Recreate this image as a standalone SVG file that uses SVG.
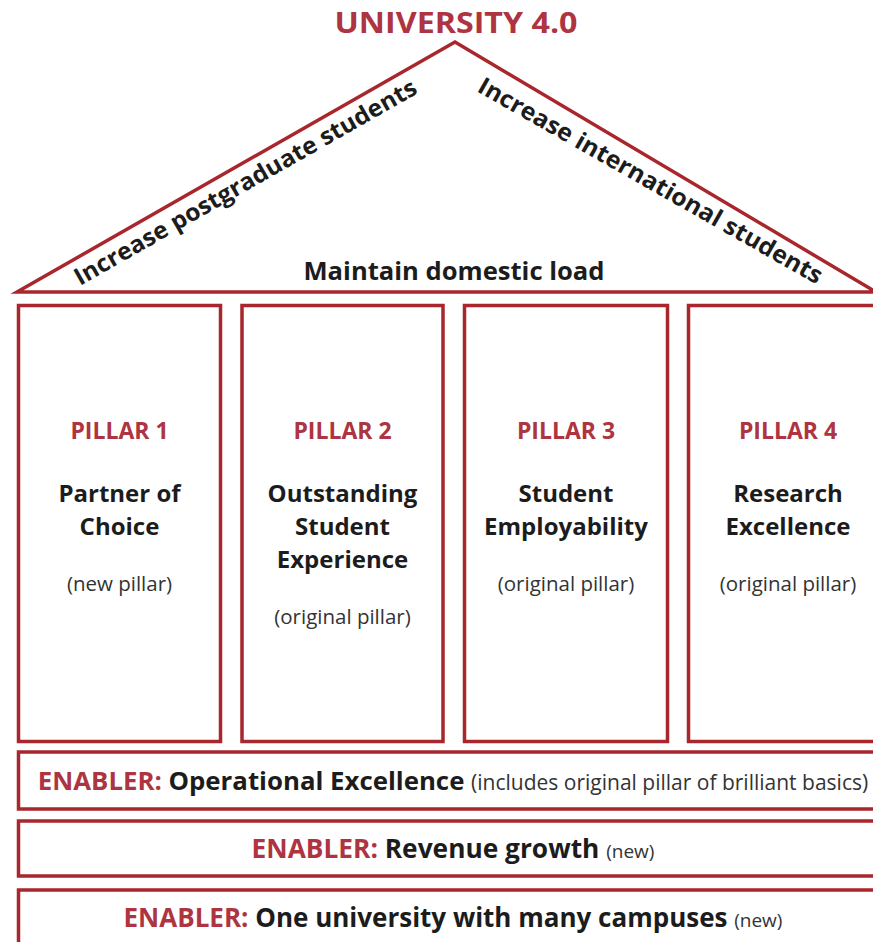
<svg xmlns="http://www.w3.org/2000/svg" width="873" height="942" viewBox="0 0 873 942">
<style>
.box{fill:#ffffff;stroke:#a9262c;stroke-width:3.5}
.red{fill:#ad3440;font-family:"Open Sans","DejaVu Sans",sans-serif;font-weight:700}
.blk{fill:#1c1c1c;font-family:"Open Sans","DejaVu Sans",sans-serif;font-weight:700}
.reg{fill:#333333;font-family:"Open Sans","DejaVu Sans",sans-serif;font-weight:400}
.c{text-anchor:middle}
</style>
<rect width="873" height="942" fill="#ffffff"/>
<g id="title">
<text class="red c" x="456" y="33" font-size="28.5" textLength="243" lengthAdjust="spacingAndGlyphs">UNIVERSITY 4.0</text>
</g>
<g id="roof">
<polygon class="box" points="17,292 455,42 876,292"/>
<text class="blk" font-size="24" x="80" y="286" transform="rotate(-29.7 80 286)" textLength="390" lengthAdjust="spacingAndGlyphs">Increase postgraduate students</text>
<text class="blk" font-size="24" x="476" y="91" transform="rotate(29.6 476 91)" textLength="392" lengthAdjust="spacingAndGlyphs">Increase international students</text>
<text class="blk c" font-size="25" x="454" y="280" textLength="301" lengthAdjust="spacingAndGlyphs">Maintain domestic load</text>
</g>
<g id="pillar1">
<rect class="box" x="18.5" y="305.5" width="202" height="436"/>
<text class="red c" font-size="23" x="119.5" y="439">PILLAR 1</text>
<text class="blk c" font-size="24" x="119.5" y="502">Partner of</text>
<text class="blk c" font-size="24" x="119.5" y="535">Choice</text>
<text class="reg c" font-size="20.5" x="119.5" y="591">(new pillar)</text>
</g>
<g id="pillar2">
<rect class="box" x="242" y="305.5" width="201" height="436"/>
<text class="red c" font-size="23" x="342.5" y="439">PILLAR 2</text>
<text class="blk c" font-size="24" x="342.5" y="502">Outstanding</text>
<text class="blk c" font-size="24" x="342.5" y="535">Student</text>
<text class="blk c" font-size="24" x="342.5" y="568">Experience</text>
<text class="reg c" font-size="20.5" x="342.5" y="624">(original pillar)</text>
</g>
<g id="pillar3">
<rect class="box" x="464.5" y="305.5" width="203" height="436"/>
<text class="red c" font-size="23" x="566" y="439">PILLAR 3</text>
<text class="blk c" font-size="24" x="566" y="502">Student</text>
<text class="blk c" font-size="24" x="566" y="535">Employability</text>
<text class="reg c" font-size="20.5" x="566" y="591">(original pillar)</text>
</g>
<g id="pillar4">
<rect class="box" x="688.5" y="305.5" width="202" height="436"/>
<text class="red c" font-size="23" x="788" y="439">PILLAR 4</text>
<text class="blk c" font-size="24" x="788" y="502">Research</text>
<text class="blk c" font-size="24" x="788" y="535">Excellence</text>
<text class="reg c" font-size="20.5" x="788" y="591">(original pillar)</text>
</g>
<g id="enabler1">
<rect class="box" x="18.5" y="752" width="870" height="57"/>
<text class="c" x="453" y="790" font-size="25.8"><tspan class="red">ENABLER:</tspan><tspan class="blk"> Operational Excellence </tspan><tspan class="reg" font-size="21">(includes original pillar of brilliant basics)</tspan></text>
</g>
<g id="enabler2">
<rect class="box" x="18.5" y="821" width="870" height="55"/>
<text class="c" x="453" y="858" font-size="26.3"><tspan class="red">ENABLER:</tspan><tspan class="blk"> Revenue growth </tspan><tspan class="reg" font-size="19">(new)</tspan></text>
</g>
<g id="enabler3">
<rect class="box" x="18.5" y="890" width="870" height="70"/>
<text class="c" x="453" y="927" font-size="26"><tspan class="red">ENABLER:</tspan><tspan class="blk"> One university with many campuses </tspan><tspan class="reg" font-size="19">(new)</tspan></text>
</g>
</svg>
